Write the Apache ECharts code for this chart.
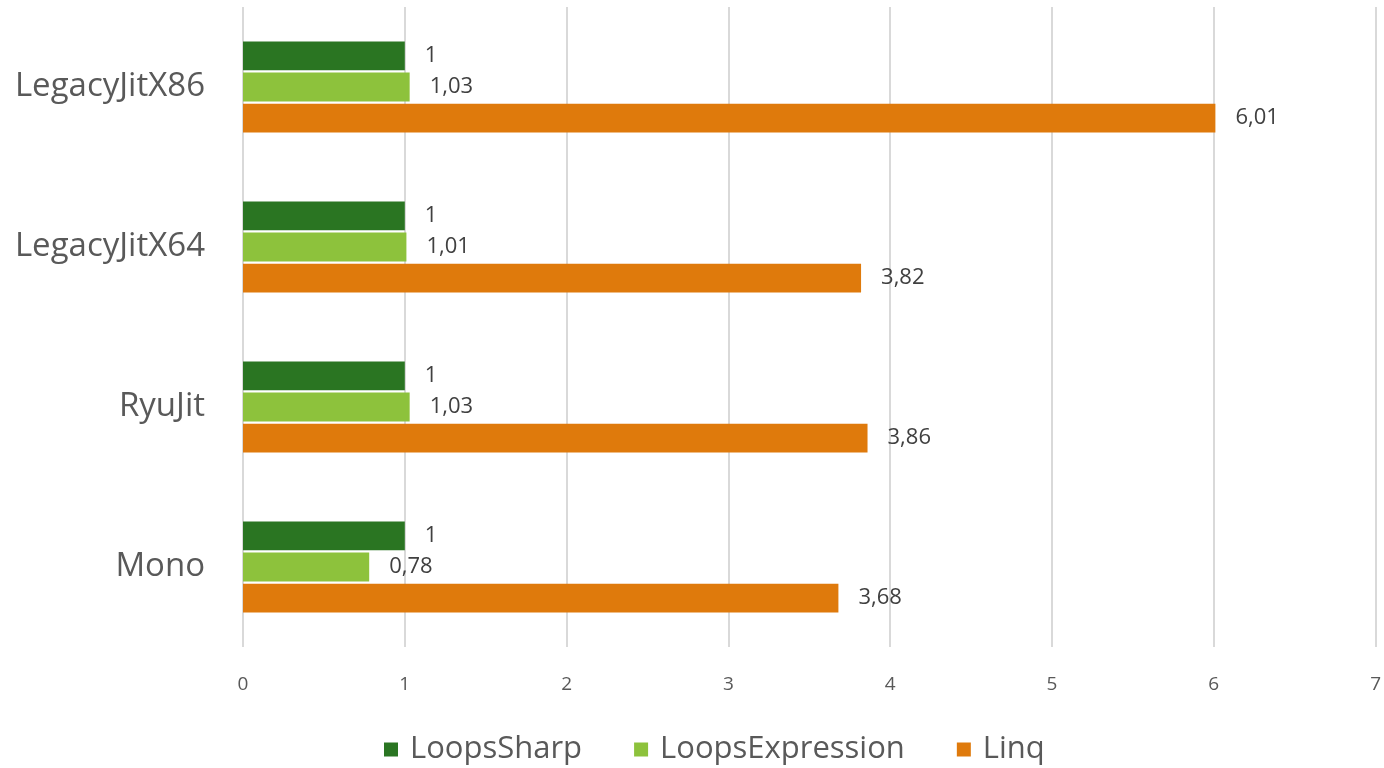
<!DOCTYPE html>
<html>
<head>
<meta charset="utf-8">
<script src="https://cdn.jsdelivr.net/npm/echarts@6/dist/echarts.min.js"></script>
<style>
  html, body { margin: 0; padding: 0; background: #fff; }
  #main { width: 1384px; height: 768px; }
</style>
</head>
<body>
<div id="main"></div>
<script>
// categories, top to bottom
var categories = ['LegacyJitX86', 'LegacyJitX64', 'RyuJit', 'Mono'];
var seriesNames = ['LoopsSharp', 'LoopsExpression', 'Linq'];
var loopsSharp = [1, 1, 1, 1];
var loopsExpression = [1.03, 1.01, 1.03, 0.78];
var linq = [6.01, 3.82, 3.86, 3.68];
var colors = ['#2a7522', '#8dc23c', '#df7a0c'];

var fontFamily = '"Open Sans", "Noto Sans", sans-serif';

function makeSeries(name, data, color) {
  return {
    name: name,
    type: 'bar',
    data: data,
    barGap: '8%',
    barCategoryGap: '43%',
    itemStyle: { color: color },
    label: {
      show: true,
      position: 'right',
      distance: 20,
      color: '#404040',
      fontSize: 22,
      fontFamily: fontFamily,
      formatter: function (p) { return String(p.value).replace('.', ','); }
    }
  };
}

var myChart = echarts.init(document.getElementById('main'));
myChart.setOption({
  animation: false,
  color: colors,
  grid: { left: 243, right: 8, top: 7, bottom: 121, containLabel: false },
  legend: {
    top: 729,
    left: 379,
    itemWidth: 14,
    itemHeight: 14,
    itemGap: 52,
    icon: 'rect',
    textStyle: { fontSize: 31, color: '#595959', fontFamily: fontFamily, padding: [0, 0, 0, 7] },
    data: seriesNames
  },
  xAxis: {
    type: 'value',
    min: 0,
    max: 7,
    interval: 1,
    axisLine: { show: false },
    axisTick: { show: false },
    splitLine: { lineStyle: { color: '#d9d9d9', width: 2 } },
    axisLabel: { margin: 28, fontSize: 19, color: '#595959', fontFamily: fontFamily }
  },
  yAxis: {
    type: 'category',
    inverse: true,
    data: categories,
    axisLine: { show: false },
    axisTick: { show: false },
    axisLabel: { margin: 38, fontSize: 33, color: '#595959', fontFamily: fontFamily }
  },
  series: [
    makeSeries(seriesNames[0], loopsSharp, colors[0]),
    makeSeries(seriesNames[1], loopsExpression, colors[1]),
    makeSeries(seriesNames[2], linq, colors[2])
  ]
});
</script>
</body>
</html>
